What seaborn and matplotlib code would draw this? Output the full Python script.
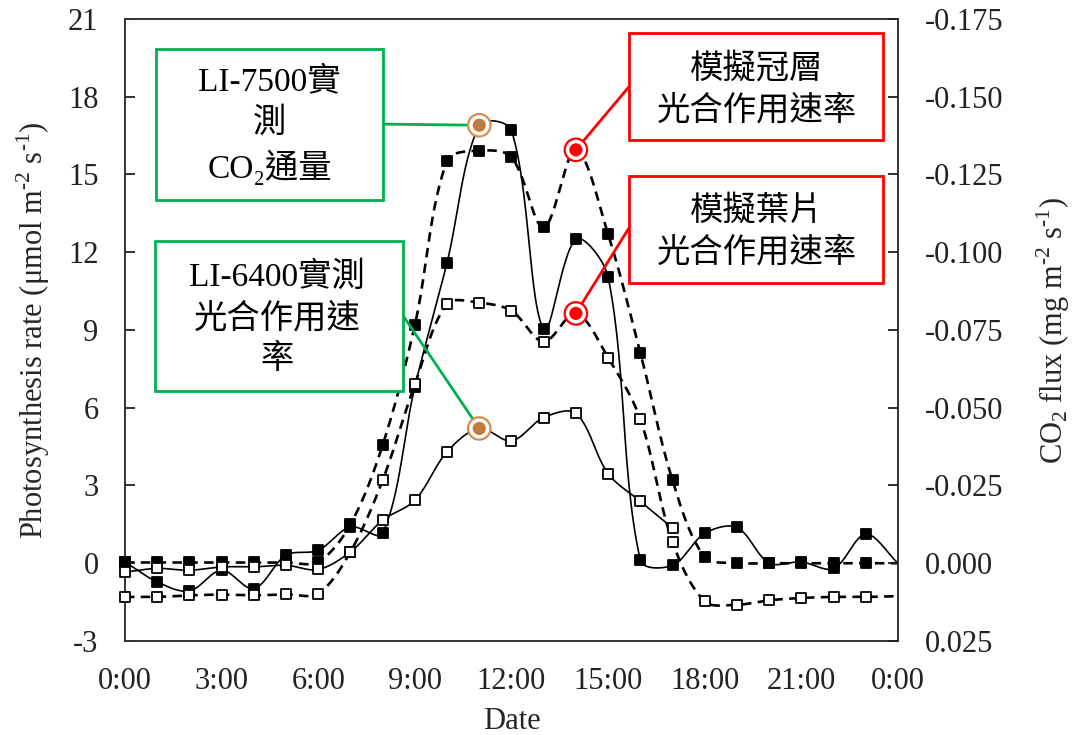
import numpy as np
import seaborn as sns
import matplotlib.pyplot as plt
from matplotlib.patches import Rectangle

# hourly values (left axis units)
hours = list(range(25))
li7500_flux = [0.05, -0.72, -1.07, -0.27, -0.98, 0.31, 0.5, 1.4, 1.15, 6.81, 11.6, 16.9, 16.7,
               9.02, 12.5, 11.05, 0.12, -0.08, 1.15, 1.38, 0.01, 0.05, -0.2, 1.12, 0.0]
sim_canopy = [0.03, 0.03, 0.03, 0.03, 0.03, 0.03, 0.05, 1.5, 4.56, 9.19, 15.53, 15.92, 15.66,
              12.96, 15.95, 12.69, 8.13, 3.2, 0.24, 0.01, 0.0, 0.0, 0.0, 0.0, 0.0]
sim_leaf = [-1.3, -1.3, -1.24, -1.21, -1.24, -1.2, -1.17, 0.44, 3.2, 6.9, 10.0, 10.05, 9.74,
            8.55, 9.64, 7.93, 5.56, 0.82, -1.47, -1.6, -1.43, -1.34, -1.3, -1.3, -1.27]
li6400_hours = list(range(18))
li6400_rate = [-0.34, -0.2, -0.27, -0.14, -0.14, -0.08, -0.24, 0.44, 1.66, 2.43, 4.3, 5.2,
               4.72, 5.62, 5.78, 3.46, 2.39, 1.36]

hour_ticks = list(range(0, 25, 3))
hour_labels = ['0:00', '3:00', '6:00', '9:00', '12:00', '15:00', '18:00', '21:00', '0:00']
left_ticks = list(range(-3, 22, 3))
right_ticks = [0.025, 0.0, -0.025, -0.05, -0.075, -0.1, -0.125, -0.15, -0.175]


def smooth(x, y, n=30, sx=32.2, sy=25.9):
    # spreadsheet-style smoothed line: Bezier segments, control points weighted
    # by neighbouring segment lengths measured on screen
    x = np.asarray(x, float) * sx
    y = np.asarray(y, float) * sy
    px = np.concatenate([[x[0]], x, [x[-1]]])
    py = np.concatenate([[y[0]], y, [y[-1]]])
    dist = np.hypot(np.diff(px), np.diff(py))
    t = np.linspace(0, 1, n, endpoint=False)
    xs, ys = [], []
    for i in range(len(x) - 1):
        d01, d12, d23 = dist[i], dist[i + 1], dist[i + 2]
        f1 = d12 / (d01 + d12) / 3 if d01 + d12 > 0 else 0
        f2 = d12 / (d12 + d23) / 3 if d12 + d23 > 0 else 0
        for p, out in ((px, xs), (py, ys)):
            p0, p1, p2, p3 = p[i], p[i + 1], p[i + 2], p[i + 3]
            b1 = p1 + (p2 - p0) * f1
            b2 = p2 - (p3 - p1) * f2
            out.extend((1 - t) ** 3 * p1 + 3 * (1 - t) ** 2 * t * b1
                       + 3 * (1 - t) * t ** 2 * b2 + t ** 3 * p2)
    xs.append(x[-1])
    ys.append(y[-1])
    return np.array(xs) / sx, np.array(ys) / sy


sns.set_style('white')
plt.rcParams['font.family'] = ['Liberation Serif', 'DejaVu Serif', 'Noto Sans CJK TC']
plt.rcParams['mathtext.fontset'] = 'custom'
plt.rcParams['mathtext.rm'] = 'Liberation Serif'
plt.rcParams['axes.unicode_minus'] = False

fig = plt.figure(figsize=(10.81, 7.35), dpi=100)
ax = fig.add_axes([0.1156, 0.1279, 0.7151, 0.8463])

dash = (0, (3.6, 2.4))
series = [
    (hours, li7500_flux, '-', 1.2, 'black'),
    (hours, sim_canopy, dash, 1.9, 'black'),
    (li6400_hours, li6400_rate, '-', 1.2, 'white'),
    (hours, sim_leaf, dash, 1.9, 'white'),
]
for xv, yv, ls, lw, fc in series:
    sx, sy = smooth(xv, yv)
    sns.lineplot(x=sx, y=sy, ax=ax, color='black', linestyle=ls, linewidth=lw,
                 sort=False, estimator=None, zorder=2)
for xv, yv, ls, lw, fc in series:
    m = min(len(xv), 24)
    sns.scatterplot(x=xv[:m], y=yv[:m], ax=ax, marker='s', s=62, color=fc,
                    edgecolor='black', linewidth=1.3, zorder=4, clip_on=False)

ax.set_xlim(0, 24)
ax.set_ylim(-3, 21)
ax.set_xticks(hour_ticks)
ax.set_xticklabels(hour_labels)
ax.set_yticks(left_ticks)
ax.set_yticklabels([str(v) for v in left_ticks])
ax.tick_params(direction='in', length=7, width=1.3, labelsize=22, pad=19, colors='#222222')
for s in ax.spines.values():
    s.set_color('#333333')
    s.set_linewidth(1.4)
ax.set_xlabel('Date', fontsize=22)
ax.set_ylabel(r'Photosynthesis rate (μmol m$^{\text{-2}}$ s$^{\text{-1}}$)', fontsize=22)
ax.xaxis.set_label_coords(0.5, -0.106)
ax.yaxis.set_label_coords(-0.094, 0.5)

ax2 = ax.twinx()
ax2.set_ylim(0.025, -0.175)
ax2.set_yticks(right_ticks)
ax2.set_yticklabels([f'{v:.3f}' for v in right_ticks])
ax2.tick_params(direction='in', length=7, width=1.3, labelsize=22, pad=19, colors='#222222')
for s in ax2.spines.values():
    s.set_visible(False)
ax2.set_ylabel(r'CO$_{\text{2}}$ flux (mg m$^{\text{-2}}$ s$^{\text{-1}}$)', fontsize=22)
ax2.yaxis.set_label_coords(1.177, 0.5)

green = '#00b050'
red = '#ff0000'
# callout boxes: (x0, y0, x1, y1) in axes fraction, text centre, edge anchor, target point
callouts = [
    ((0.040, 0.709, 0.334, 0.952), (0.187, 0.828), 'LI-7500實\n測\nCO₂通量', green,
     (0.334, 0.831), (hours[11], li7500_flux[11])),
    ((0.039, 0.402, 0.360, 0.643), (0.197, 0.519), 'LI-6400實測\n光合作用速\n率', green,
     (0.360, 0.5225), (li6400_hours[11], li6400_rate[11])),
    ((0.652, 0.805, 0.981, 0.977), (0.817, 0.886), '模擬冠層\n光合作用速率', red,
     (0.652, 0.891), (hours[14], sim_canopy[14])),
    ((0.652, 0.576, 0.981, 0.748), (0.817, 0.657), '模擬葉片\n光合作用速率', red,
     (0.652, 0.664), (hours[14], sim_leaf[14])),
]
for (x0, y0, x1, y1), (tx, ty), txt, col, anchor, target in callouts:
    ax.add_patch(Rectangle((x0, y0), x1 - x0, y1 - y0, transform=ax.transAxes,
                           facecolor='white', edgecolor=col, linewidth=2, zorder=6))
    ax.text(tx, ty, txt, transform=ax.transAxes, ha='center', va='center',
            fontsize=24, linespacing=1.4, zorder=7, color='black')
    ax.annotate('', xy=target, xycoords='data', xytext=anchor, textcoords='axes fraction',
                arrowprops=dict(arrowstyle='-', color=col, lw=2, shrinkA=0, shrinkB=0),
                zorder=5)

hl_x = [hours[11], li6400_hours[11], hours[14], hours[14]]
hl_y = [li7500_flux[11], li6400_rate[11], sim_canopy[14], sim_leaf[14]]
hl_ring = ['#d48c4f', '#d48c4f', red, red]
hl_fill = ['#c07c40', '#c07c40', red, red]
sns.scatterplot(x=hl_x, y=hl_y, ax=ax, marker='o', s=260, color='white',
                edgecolor=hl_ring, linewidth=1.6, zorder=8)
sns.scatterplot(x=hl_x, y=hl_y, ax=ax, marker='o', s=90, color=hl_fill,
                edgecolor=hl_fill, linewidth=0, zorder=9)

fig.savefig('out.png', dpi=100)
